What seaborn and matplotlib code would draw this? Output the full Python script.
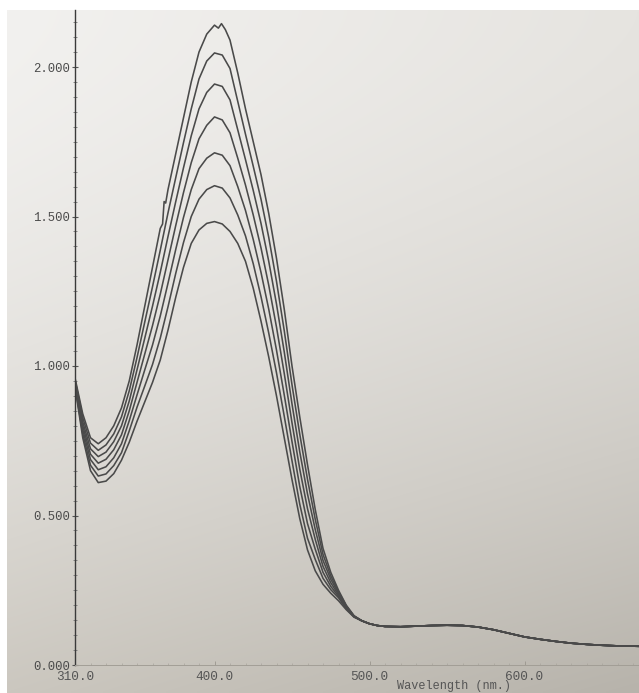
import numpy as np
import pandas as pd
import matplotlib
matplotlib.use("Agg")
import matplotlib.pyplot as plt
import seaborn as sns
from matplotlib.ticker import MultipleLocator

# ---------------- data ----------------
wl_main = [310, 315, 320, 325, 330, 335, 340, 345, 350, 355, 360, 365,
           370, 375, 380, 385, 390, 395, 400, 405, 410, 415, 420,
           425, 430, 435, 440, 445, 450, 455, 460, 465, 470, 475, 480, 485, 490]

# top curve has its own sampling (small glitch near 367 nm and notch at the peak)
wl_c1 = [310, 315, 320, 325, 330, 335, 340, 345, 350, 355, 360, 365,
         366.5, 367.5, 368.5,
         370, 375, 380, 385, 390, 395, 400,
         402.5, 404.5, 407,
         410, 415, 420, 425, 430, 435, 440, 445, 450, 455, 460, 465, 470, 475, 480, 485, 490]
c1 = [0.96, 0.84, 0.76, 0.74, 0.76, 0.80, 0.86, 0.95, 1.07, 1.20, 1.33, 1.46,
      1.475, 1.55, 1.545,
      1.59, 1.71, 1.83, 1.95, 2.05, 2.11, 2.14,
      2.13, 2.145, 2.125,
      2.09, 1.98, 1.86, 1.75, 1.64, 1.51, 1.36, 1.19, 1.00, 0.83, 0.67, 0.52, 0.39, 0.31, 0.25, 0.20, 0.165]
c2 = [0.955, 0.827, 0.742, 0.718, 0.736, 0.773, 0.83, 0.917, 1.028, 1.147, 1.265, 1.387,
      1.512, 1.63, 1.747, 1.86, 1.96, 2.02, 2.047, 2.04, 1.995, 1.885, 1.775,
      1.668, 1.558, 1.43, 1.283, 1.118, 0.937, 0.772, 0.621, 0.487, 0.37, 0.298, 0.245, 0.198, 0.164]
c3 = [0.95, 0.813, 0.723, 0.697, 0.712, 0.747, 0.80, 0.883, 0.987, 1.093, 1.20, 1.313,
      1.433, 1.55, 1.663, 1.77, 1.86, 1.915, 1.943, 1.935, 1.89, 1.79, 1.69,
      1.587, 1.477, 1.35, 1.207, 1.047, 0.873, 0.713, 0.572, 0.453, 0.35, 0.287, 0.24, 0.195, 0.163]
c4 = [0.945, 0.80, 0.705, 0.675, 0.688, 0.72, 0.77, 0.85, 0.945, 1.04, 1.135, 1.24,
      1.355, 1.47, 1.58, 1.68, 1.76, 1.805, 1.833, 1.823, 1.78, 1.695, 1.605,
      1.505, 1.395, 1.27, 1.13, 0.975, 0.81, 0.655, 0.523, 0.42, 0.33, 0.275, 0.235, 0.193, 0.163]
c5 = [0.94, 0.787, 0.687, 0.653, 0.663, 0.693, 0.74, 0.817, 0.903, 0.987, 1.07, 1.167,
      1.277, 1.39, 1.497, 1.59, 1.66, 1.695, 1.713, 1.705, 1.67, 1.60, 1.52,
      1.423, 1.313, 1.19, 1.053, 0.903, 0.747, 0.597, 0.473, 0.387, 0.31, 0.263, 0.23, 0.19, 0.162]
c6 = [0.935, 0.773, 0.668, 0.632, 0.639, 0.667, 0.71, 0.783, 0.862, 0.933, 1.005, 1.093,
      1.198, 1.31, 1.413, 1.50, 1.558, 1.59, 1.603, 1.595, 1.562, 1.505, 1.435,
      1.342, 1.232, 1.11, 0.977, 0.832, 0.683, 0.538, 0.424, 0.353, 0.29, 0.252, 0.225, 0.188, 0.161]
c7 = [0.93, 0.76, 0.65, 0.61, 0.615, 0.64, 0.685, 0.745, 0.815, 0.88, 0.945, 1.02,
      1.12, 1.23, 1.33, 1.41, 1.455, 1.477, 1.483, 1.475, 1.45, 1.41, 1.35,
      1.26, 1.15, 1.03, 0.90, 0.76, 0.62, 0.49, 0.385, 0.315, 0.27, 0.24, 0.215, 0.185, 0.16]

# common tail where all traces overlap
wl_tail = [495, 500, 505, 510, 520, 530, 540, 550, 560, 570, 580, 590,
           600, 610, 620, 630, 640, 650, 660, 670, 680]
a_tail = [0.148, 0.138, 0.132, 0.129, 0.128, 0.13, 0.132, 0.133, 0.132, 0.127, 0.118, 0.106,
          0.094, 0.086, 0.079, 0.073, 0.069, 0.066, 0.064, 0.063, 0.062]

series_names = ["s1", "s2", "s3", "s4", "s5", "s6", "s7"]
y_ticks = [0.0, 0.5, 1.0, 1.5, 2.0]
x_ticks = [310, 400, 500, 600]
x_title = "Wavelength (nm.)"

# ---------------- build long table ----------------
frames = []
curves = [(wl_c1, c1), (wl_main, c2), (wl_main, c3), (wl_main, c4),
          (wl_main, c5), (wl_main, c6), (wl_main, c7)]
for name, (w, a) in zip(series_names, curves):
    frames.append(pd.DataFrame({"wl": list(w) + wl_tail, "A": list(a) + a_tail, "series": name}))
df = pd.concat(frames, ignore_index=True)

# ---------------- figure ----------------
sns.set_theme(style="white")
plt.rcParams["font.family"] = ["Liberation Mono", "DejaVu Sans Mono"]

W, H = 639, 693
fig = plt.figure(figsize=(W / 100, H / 100), dpi=100, facecolor="white")

# paper background (photo lighting gradient)
bg = fig.add_axes([7 / W, 0, 1 - 7 / W, 1 - 10 / H], zorder=-5)
bg.axis("off")
ny, nx = 200, 200
yy, xx = np.mgrid[0:1:ny * 1j, 0:1:nx * 1j]
ty = yy ** 1.6
tl = np.array([242, 241, 239]) / 255
tr = np.array([230, 228, 224]) / 255
bl = np.array([203, 199, 191]) / 255
br = np.array([183, 179, 171]) / 255
img = ((1 - ty)[..., None] * ((1 - xx)[..., None] * tl + xx[..., None] * tr)
       + ty[..., None] * ((1 - xx)[..., None] * bl + xx[..., None] * br))
bg.imshow(img, aspect="auto", extent=[0, 1, 1, 0], interpolation="bilinear")
bg.set_xlim(0, 1)
bg.set_ylim(1, 0)

ax = fig.add_axes([75 / W, 1 - 665 / H, 1 - 75 / W, (665 - 10) / H])
ax.patch.set_alpha(0)

line_color = "#4a4a4a"
sns.lineplot(data=df, x="wl", y="A", hue="series", palette=[line_color] * 7,
             legend=False, estimator=None, sort=True, linewidth=1.15, ax=ax)

ax.set_xlim(310, 310 + 564 / 1.55)
ax.set_ylim(0, 655 / 299)
ax.set_xlabel("")
ax.set_ylabel("")

ax.set_yticks(y_ticks)
ax.set_yticklabels([f"{v:.3f}" for v in y_ticks], fontsize=8.8, color="#4a4a4a")
ax.set_xticks(x_ticks)
ax.set_xticklabels([f"{v:.1f}" for v in x_ticks], fontsize=9.2, color="#555555")
ax.yaxis.set_minor_locator(MultipleLocator(0.05))
ax.xaxis.set_minor_locator(MultipleLocator(10))

ax.tick_params(axis="y", which="major", direction="inout", length=5, width=0.8,
               color="#555555", pad=1, left=True)
ax.tick_params(axis="y", which="minor", direction="inout", length=2.5, width=0.6,
               color="#777777", left=True)
ax.tick_params(axis="x", which="major", direction="in", length=3, width=0.6,
               color="#9a968e", pad=4.5, bottom=True)
ax.tick_params(axis="x", which="minor", direction="in", length=1.5, width=0.5,
               color="#a8a49c", bottom=True)

for s in ["top", "right"]:
    ax.spines[s].set_visible(False)
ax.spines["left"].set_color("#3a3a3a")
ax.spines["left"].set_linewidth(1.0)
ax.spines["bottom"].set_color("#a29e96")
ax.spines["bottom"].set_linewidth(0.7)
ax.grid(False)

fig.text(454 / W, 0.5 / H, x_title, ha="center", va="bottom",
         fontsize=8.6, color="#555555")

fig.savefig("out.png", dpi=100, facecolor="white")
